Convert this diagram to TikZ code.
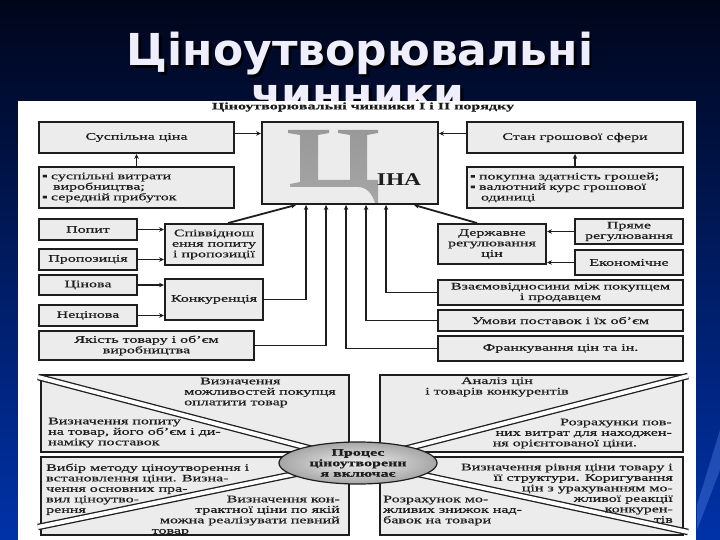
\documentclass[tikz,border=0pt]{standalone}
\usepackage{fontspec}
\setmainfont{Liberation Serif}
\newfontfamily\diag[FakeStretch=1.6,FakeBold=0.6]{Liberation Serif}
\newfontfamily\bigserif[FakeStretch=1.3]{Liberation Serif}
\newfontfamily\titlefont{DejaVu Sans}
\usetikzlibrary{arrows.meta}
\usetikzlibrary{shapes.geometric}

\definecolor{bgtop}{RGB}{0,5,26}
\definecolor{bgbot}{RGB}{0,50,168}
\definecolor{bgstreak}{RGB}{70,120,220}
\definecolor{boxfill}{RGB}{236,236,236}
\definecolor{ink}{RGB}{30,30,30}
\definecolor{titlecol}{RGB}{238,238,255}

\tikzset{
  title/.style={anchor=base, text=titlecol, font=\titlefont\bfseries\fontsize{44}{44}\selectfont},
  head/.style={text=ink, font=\diag\bfseries\fontsize{10}{11}\selectfont},
  box/.style={draw=ink, line width=1.9pt, fill=boxfill, inner sep=1pt, align=center, text=ink, font=\diag\fontsize{10}{10.5}\selectfont},
  arr/.style={-{Stealth[length=5pt,width=4.5pt]}, line width=1.8pt, draw=ink},
  quad/.style={draw=ink, line width=1.7pt, fill=boxfill},
  band/.style={draw=ink, line width=1.3pt, double=white, double distance=4pt},
  qtext/.style={inner sep=0pt, text=ink, font=\diag\fontsize{10}{10.5}\selectfont},
}

\begin{document}
\begin{tikzpicture}[x=1pt, y=-1pt]
    \useasboundingbox (0,0) rectangle (720,540);
    \shade[top color=bgtop, bottom color=bgbot] (0,0) rectangle (720,540);
    \fill[bgstreak, opacity=.45] (697,505) -- (720,430) -- (720,470) -- (697,530) -- cycle;

    \node[title, text=black] (tshadow) at (362.5,68.5) {Ціноутворювальні};
    \node[title] (title) at (360,66) {Ціноутворювальні};
    \node[title, text=black] (tshadow2) at (360.5,112.5) {чинники};
    \node[title] (title2) at (358,110) {чинники};

    \fill[white] (18,101) rectangle (696,540);
    \node[head] (head) at (363,107) {Ціноутворювальні чинники І і ІІ порядку};

    \node[box, minimum width=195, minimum height=31] (susp) at (136.5,137.5) {Суспільна ціна};
    \node[box, align=left, inner xsep=3pt, text width=189pt, minimum height=41] (bl) at (136.5,187.5)
        {▪ суспільні витрати\\\hspace*{11pt}виробництва;\\▪ середній прибуток};
    \node[box, minimum width=176, minimum height=82] (cina) at (350,163) {};
    \node[box, minimum width=216, minimum height=31] (stan) at (575,137.5) {Стан грошової сфери};
    \node[box, align=left, inner xsep=3pt, text width=210pt, minimum height=41] (br) at (575,187.5)
        {▪ покупна здатність грошей;\\▪ валютний курс грошової\\\hspace*{11pt}одиниці};

    \shade[top color=gray!80, middle color=white, bottom color=gray!70]
        (288,130) -- (329,130) -- (329,133) -- (318,135) -- (318,180) -- (350,180) -- (350,135)
        -- (338,133) -- (338,130) -- (378,130) -- (378,133) -- (367,135) -- (367,180) -- (378,180)
        -- (378,203) -- (375,203) .. controls (372,193) and (366,187) .. (358,187) -- (290,187)
        -- (290,184) -- (300,182) -- (300,135) -- (288,133) -- cycle;
    \node[anchor=base, text=ink, font=\bigserif\bfseries\fontsize{18}{18}\selectfont] (ina) at (399,186) {ІНА};

    \node[box, minimum width=98, minimum height=21] (popyt) at (88,229.5) {Попит};
    \node[box, minimum width=98, minimum height=21] (propoz) at (88,259.5) {Пропозиція};
    \node[box, minimum width=98, minimum height=41] (spiv) at (214,244.5) {Співвіднош\\ення попиту\\і пропозиції};
    \node[box, minimum width=98, minimum height=20] (cinova) at (88,285) {Цінова};
    \node[box, minimum width=98, minimum height=21] (necin) at (88,315.5) {Нецінова};
    \node[box, minimum width=98, minimum height=41] (konk) at (214,299.5) {Конкуренція};
    \node[box, minimum width=215, minimum height=29] (yakist) at (146.5,345.5) {Якість товару і об’єм\\виробництва};

    \node[box, minimum width=108, minimum height=40] (derzh) at (492,244) {Державне\\регулювання\\цін};
    \node[box, minimum width=108, minimum height=25] (pryame) at (629,231.5) {Пряме\\регулювання};
    \node[box, minimum width=108, minimum height=25] (ekon) at (629,262.5) {Економічне};
    \node[box, minimum width=245, minimum height=25] (vzaem) at (560.5,292.5) {Взаємовідносини між покупцем\\і продавцем};
    \node[box, minimum width=245, minimum height=21] (umovy) at (560.5,320.5) {Умови поставок і їх об’єм};
    \node[box, minimum width=245, minimum height=25] (frank) at (560.5,348.5) {Франкування цін та ін.};

    \draw[arr] (bl.north) -- (susp.south);
    \draw[arr] (br.north) -- (stan.south);
    \draw[arr] ([yshift=4pt]susp.east) -- ([yshift=4pt]susp.east -| cina.west);
    \draw[arr] ([yshift=4pt]stan.west) -- ([yshift=4pt]stan.west -| cina.east);
    \foreach \a/\b in {popyt/spiv, propoz/spiv, cinova/konk, necin/konk} {
            \draw[arr] (\a.east) -- (\a.east -| \b.west);
        }
    \foreach \a/\b in {pryame/derzh, ekon/derzh} {
            \draw[arr] (\a.west) -- (\a.west -| \b.east);
        }
    \draw[arr] ([xshift=14pt]spiv.north) -- ([xshift=35pt]cina.south west);
    \draw[arr] ([xshift=-15pt]derzh.north) -- ([xshift=-25pt]cina.south east);
    \foreach \a/\d in {konk.east/45, yakist.east/65, frank.west/85, umovy.west/105, vzaem.west/125} {
            \draw[arr] (\a) -| ([xshift=\d pt]cina.south west);
        }

    \foreach \a/\b/\c/\d in {41/375/349/452, 380/375/683/452, 41/457/349/535, 380/457/683/535} {
            \filldraw[quad] (\a,\b) rectangle (\c,\d);
        }
    \coordinate (mid) at (358,461);
    \foreach \x/\y in {38/377, 38/527, 688/376, 688/532} {
            \draw[band] (\x,\y) -- (mid);
        }
    \node[ellipse, draw=ink, line width=1.2pt, inner color=gray!12, outer color=gray!70,
          minimum width=158, minimum height=42, inner sep=0pt, align=center, text=ink,
          font=\diag\bfseries\fontsize{10}{10.5}\selectfont] (proc) at (358,463) {Процес\\ціноутворенн\\я включає};

    \node[qtext, align=left, anchor=north west] (lt1) at (184,377.5) {\hspace*{16pt}Визначення\\можливостей покупця\\оплатити товар};
    \node[qtext, align=left, anchor=north west] (lt2) at (48,417.5) {Визначення попиту\\на товар, його об’єм і ди-\\наміку поставок};
    \node[qtext, align=left, anchor=north west] (lb1) at (46,463.5)
        {Вибір методу ціноутворення і\\встановлення ціни. Визна-\\чення основних пра-\\вил ціноутво-\\рення};
    \node[qtext, align=right, anchor=north east] (lb2) at (340,495.5)
        {Визначення кон-\\трактної ціни по якій\\можна реалізувати певний\\\makebox[188pt][l]{товар}};
    \node[qtext, align=center] (rt1) at (497,387) {Аналіз цін\\і товарів конкурентів};
    \node[qtext, align=right, anchor=north east] (rt2) at (672,418.5)
        {Розрахунки пов-\\них витрат для находжен-\\\makebox[179pt][l]{ня орієнтованої ціни.}};
    \node[qtext, align=right, anchor=north east] (rb1) at (673,463.5)
        {Визначення рівня ціни товару і\\її структури. Коригування\\цін з урахуванням мо-\\жливої реакції\\конкурен-\\тів};
    \node[qtext, align=left, anchor=north west] (rb2) at (383,495.5) {Розрахунок мо-\\жливих знижок над-\\бавок на товари};
\end{tikzpicture}
\end{document}
